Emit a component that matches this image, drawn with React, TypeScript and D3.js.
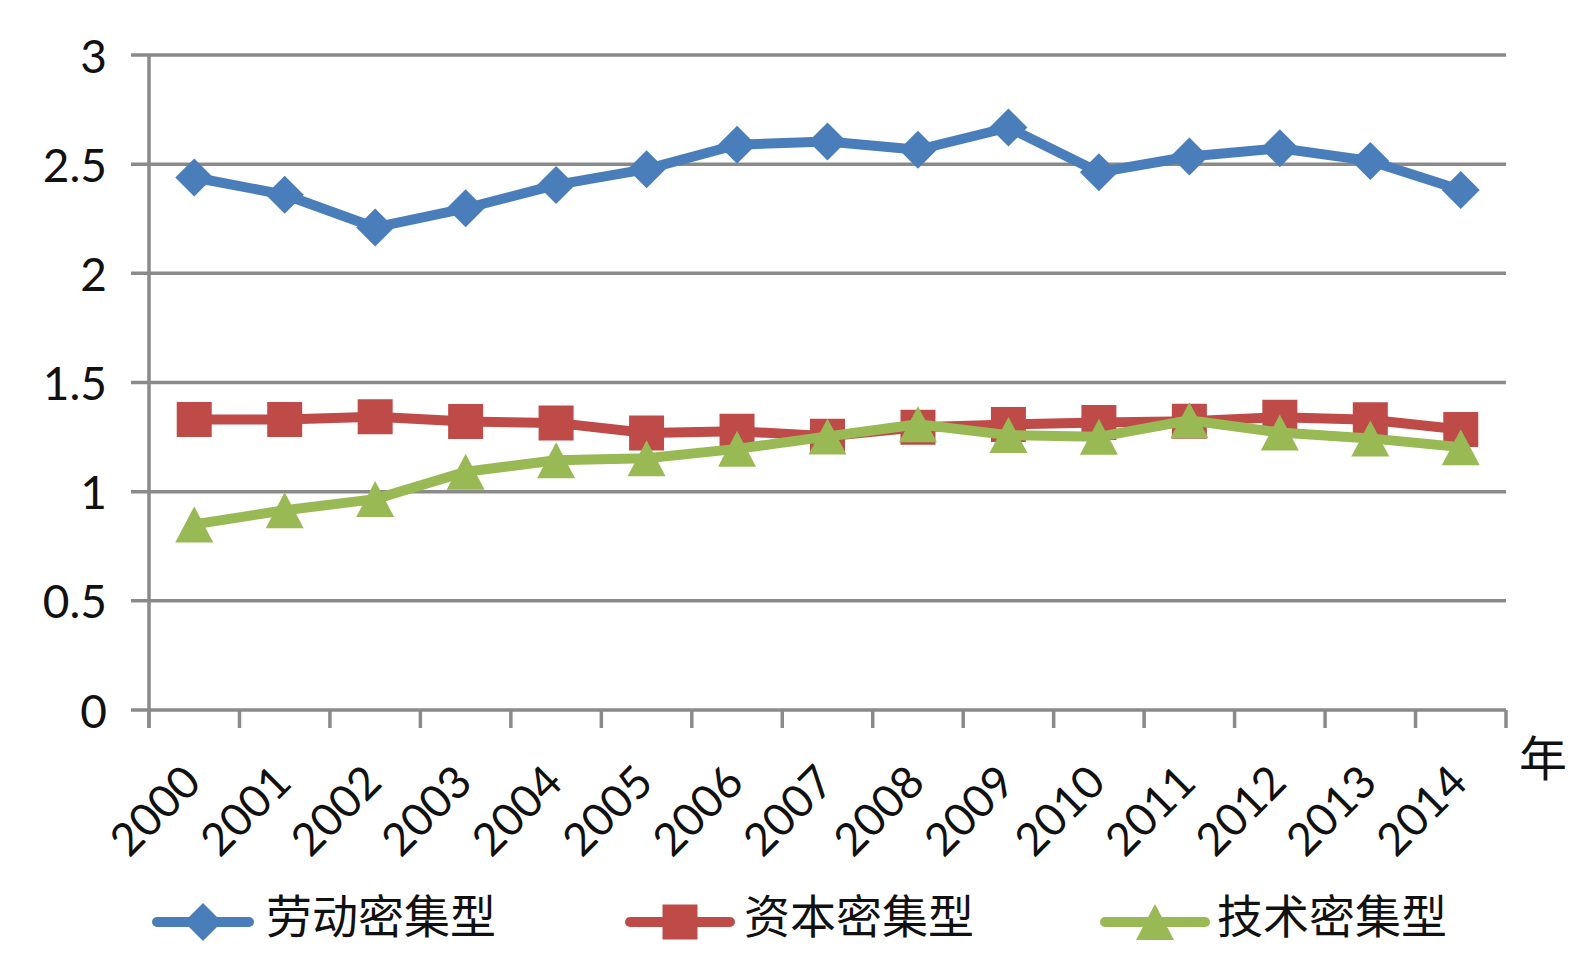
import { line, scaleBand, scaleLinear } from 'd3'

const years = ['2000', '2001', '2002', '2003', '2004', '2005', '2006', '2007', '2008', '2009', '2010', '2011', '2012', '2013', '2014']
const labour = [2.439, 2.36, 2.21, 2.298, 2.405, 2.477, 2.589, 2.604, 2.566, 2.668, 2.463, 2.535, 2.573, 2.515, 2.382]
const capital = [1.331, 1.331, 1.343, 1.321, 1.315, 1.269, 1.277, 1.254, 1.295, 1.308, 1.317, 1.323, 1.341, 1.329, 1.285]
const tech = [0.85, 0.915, 0.966, 1.091, 1.144, 1.153, 1.196, 1.253, 1.309, 1.259, 1.251, 1.327, 1.271, 1.244, 1.204]
const yTicks = [0, 0.5, 1, 1.5, 2, 2.5, 3]
const seriesNames = ['劳动密集型', '资本密集型', '技术密集型']
const xUnit = '年'

const width = 1593
const height = 972
const plot = { left: 149, right: 1506, top: 55, bottom: 710 }
const grey = '#8a8a8a'
const numFont = 'Lato, "Open Sans", sans-serif'
const cjkFont = '"Noto Sans CJK SC", sans-serif'

type Shape = 'diamond' | 'square' | 'triangle'

function markerPath(shape: Shape, cx: number, cy: number) {
  if (shape === 'diamond') {
    const r = 19
    return `M${cx},${cy - r}L${cx + r},${cy}L${cx},${cy + r}L${cx - r},${cy}Z`
  }
  if (shape === 'square') {
    const h = 17.5
    return `M${cx - h},${cy - h}H${cx + h}V${cy + h}H${cx - h}Z`
  }
  return `M${cx},${cy - 18}L${cx + 19},${cy + 18}L${cx - 19},${cy + 18}Z`
}

const series = [
  { name: seriesNames[0], values: labour, color: '#4a7ebb', shape: 'diamond' as Shape },
  { name: seriesNames[1], values: capital, color: '#be4b48', shape: 'square' as Shape },
  { name: seriesNames[2], values: tech, color: '#98b954', shape: 'triangle' as Shape },
]

const legendPos = [
  { x1: 157, x2: 249, tx: 266 },
  { x1: 630, x2: 730, tx: 744 },
  { x1: 1105, x2: 1205, tx: 1217 },
]

export default function App() {
  const x = scaleBand<string>().domain(years).range([plot.left, plot.right])
  const y = scaleLinear().domain([0, 3]).range([plot.bottom, plot.top])
  const cx = (yr: string) => (x(yr) ?? 0) + x.bandwidth() / 2
  const path = line<number>()
    .x((_, i) => cx(years[i]))
    .y(d => y(d))

  const tickXs = [...years.map(yr => x(yr) ?? 0), plot.right]
  const legendY = 922

  return (
    <div style={{ position: 'absolute', left: 0, top: 0 }}>
      <svg width={width} height={height} style={{ display: 'block', background: '#fff' }}>
        {yTicks.map(t => (
          <g key={t}>
            <line x1={plot.left - 18} x2={plot.right} y1={y(t)} y2={y(t)} stroke={grey} strokeWidth={3.5} />
            <text
              x={107}
              y={y(t)}
              textAnchor="end"
              dominantBaseline="central"
              fontFamily={numFont}
              fontSize={46}
              fill="#111"
            >
              {String(t)}
            </text>
          </g>
        ))}
        <line x1={plot.left} x2={plot.left} y1={plot.top} y2={plot.bottom + 18} stroke={grey} strokeWidth={3.5} />
        {tickXs.map((tx, i) => (
          <line key={i} x1={tx} x2={tx} y1={plot.bottom} y2={plot.bottom + 18} stroke={grey} strokeWidth={3.5} />
        ))}
        {years.map(yr => (
          <text
            key={yr}
            transform={`translate(${cx(yr) - 14},${762}) rotate(-45)`}
            textAnchor="end"
            dy="0.72em"
            fontFamily={numFont}
            fontSize={45}
            fill="#111"
          >
            {yr}
          </text>
        ))}
        <text x={1543} y={755} textAnchor="middle" dominantBaseline="central" fontFamily={cjkFont} fontSize={48} fill="#111">
          {xUnit}
        </text>

        {series.map(s => (
          <g key={s.name}>
            <path
              d={path(s.values) ?? ''}
              fill="none"
              stroke={s.color}
              strokeWidth={10}
              strokeLinejoin="round"
              strokeLinecap="round"
            />
            {s.values.map((v, i) => (
              <path key={i} d={markerPath(s.shape, cx(years[i]), y(v))} fill={s.color} />
            ))}
          </g>
        ))}

        {series.map((s, i) => {
          const p = legendPos[i]
          return (
            <g key={s.name}>
              <line x1={p.x1} x2={p.x2} y1={legendY} y2={legendY} stroke={s.color} strokeWidth={10} strokeLinecap="round" />
              <path d={markerPath(s.shape, (p.x1 + p.x2) / 2, legendY)} fill={s.color} />
              <text
                x={p.tx}
                y={legendY - 9}
                dominantBaseline="central"
                fontFamily={cjkFont}
                fontSize={46}
                fill="#111"
              >
                {s.name}
              </text>
            </g>
          )
        })}
      </svg>
    </div>
  )
}
